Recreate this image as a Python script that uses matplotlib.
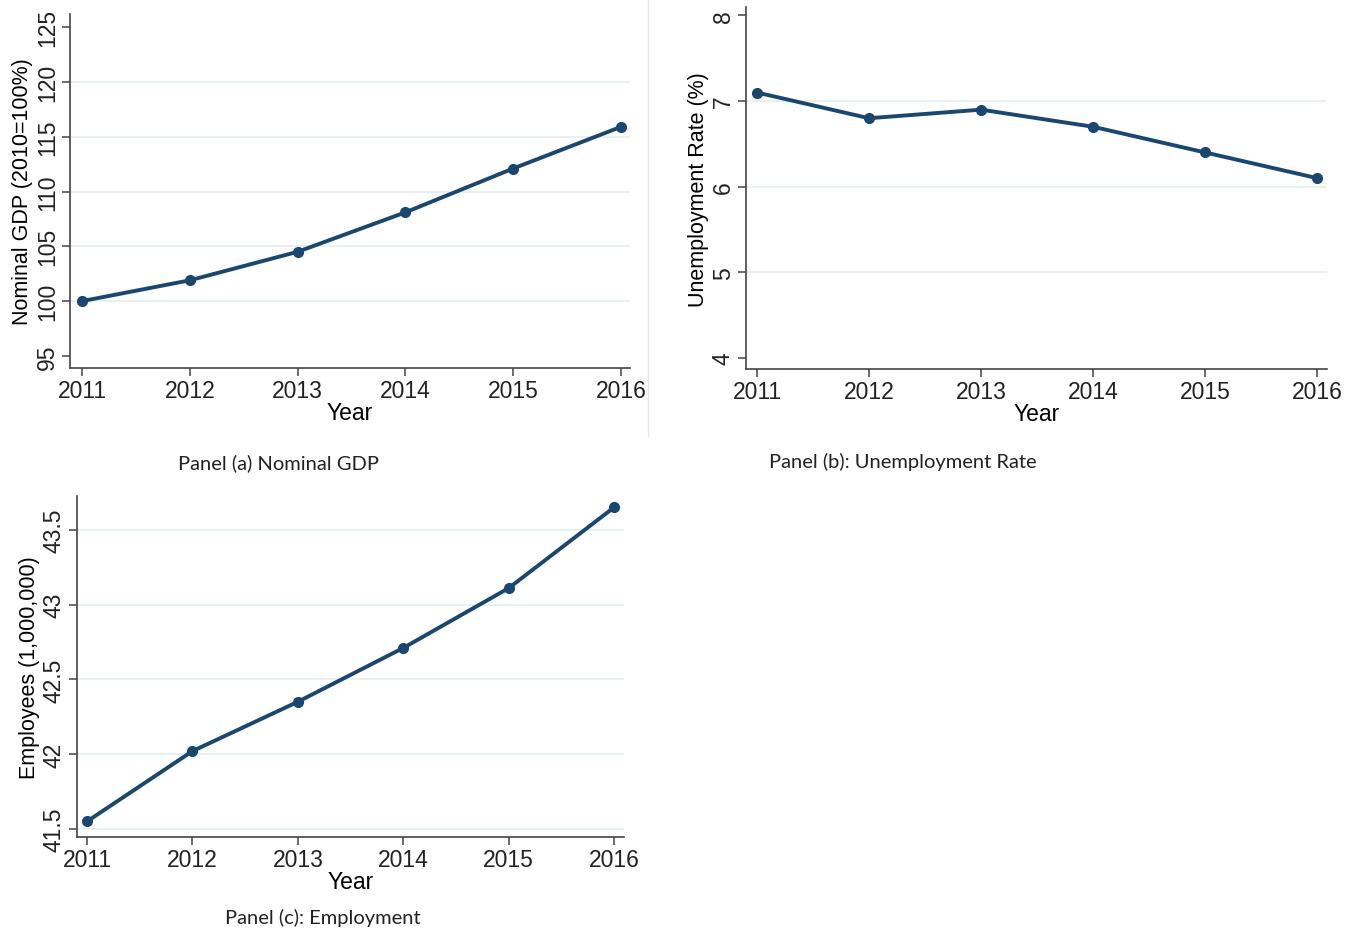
import matplotlib.pyplot as plt
from matplotlib.lines import Line2D

years = [2011, 2012, 2013, 2014, 2015, 2016]
gdp_index = [100.0, 101.9, 104.5, 108.1, 112.1, 115.9]
unemp_rate = [7.1, 6.8, 6.9, 6.7, 6.4, 6.1]
employees = [41.55, 42.02, 42.35, 42.71, 43.11, 43.65]

gdp_ticks = [95, 100, 105, 110, 115, 120, 125]
unemp_ticks = [4, 5, 6, 7, 8]
emp_ticks = [41.5, 42, 42.5, 43, 43.5]
emp_ticklabels = ["41.5", "42", "42.5", "43", "43.5"]

navy = "#1a476f"
grid_col = "#e4eeef"
axis_col = "#444444"

plt.rcParams["font.family"] = ["Liberation Sans", "DejaVu Sans"]
plt.rcParams["text.color"] = "#222222"

fig = plt.figure(figsize=(13.49, 9.37), dpi=100)


def stata_panel(rect, x, y, yticks, yticklabels, ylim, xlim, ylabel, gridvals):
    ax = fig.add_axes(rect)
    for v in gridvals:
        ax.axhline(v, color=grid_col, lw=1.2, zorder=0)
    ax.plot(x, y, color=navy, lw=2.8, marker="o", ms=7, zorder=3)
    ax.set_xlim(*xlim)
    ax.set_ylim(*ylim)
    ax.set_xticks(years)
    ax.set_xticklabels([str(v) for v in years], fontsize=16.5)
    ax.set_yticks(yticks)
    ax.set_yticklabels(yticklabels, fontsize=16.5, rotation=90, va="center", ha="right")
    ax.spines["top"].set_visible(False)
    ax.spines["right"].set_visible(False)
    for s in ("left", "bottom"):
        ax.spines[s].set_color(axis_col)
        ax.spines[s].set_linewidth(1.2)
    ax.tick_params(direction="out", length=6, width=1.1, color=axis_col,
                   labelcolor="#222222", pad=2)
    ax.set_xlabel("Year", fontsize=16.5, labelpad=-1)
    ax.set_ylabel(ylabel, fontsize=15.5, labelpad=2)
    ax.patch.set_alpha(0)
    return ax


# Panel (a): nominal GDP index
stata_panel([0.0519, 0.6062, 0.415, 0.3778], years, gdp_index,
            gdp_ticks, [str(v) for v in gdp_ticks], (93.9, 126.2),
            (2010.889, 2016.083), "Nominal GDP (2010=100%)",
            gdp_ticks[1:-1])

# Panel (b): unemployment rate
stata_panel([0.553, 0.605, 0.431, 0.386], years, unemp_rate,
            unemp_ticks, [str(v) for v in unemp_ticks], (3.872, 8.093),
            (2010.902, 2016.089), "Unemployment Rate (%)",
            unemp_ticks[1:-1])

# Panel (c): employment
stata_panel([0.0571, 0.1057, 0.4055, 0.364], years, employees,
            emp_ticks, emp_ticklabels, (41.446, 43.727),
            (2010.905, 2016.095), "Employees (1,000,000)",
            emp_ticks)

# panel captions
cap_kw = dict(fontsize=14.5, family=["Lato", "DejaVu Sans"], ha="center", va="center")
fig.text(278 / 1349, 1 - 463 / 937, "Panel (a) Nominal GDP", **cap_kw)
fig.text(903 / 1349, 1 - 462 / 937, "Panel (b): Unemployment Rate", **cap_kw)
fig.text(323 / 1349, 1 - 918 / 937, "Panel (c): Employment", **cap_kw)

# thin border left over from the first panel's frame
fig.add_artist(Line2D([648 / 1349, 648 / 1349], [1 - 437 / 937, 1.0],
                      transform=fig.transFigure, color="#e6e6e6", lw=1))

fig.savefig("out.png", dpi=100, facecolor="white")
